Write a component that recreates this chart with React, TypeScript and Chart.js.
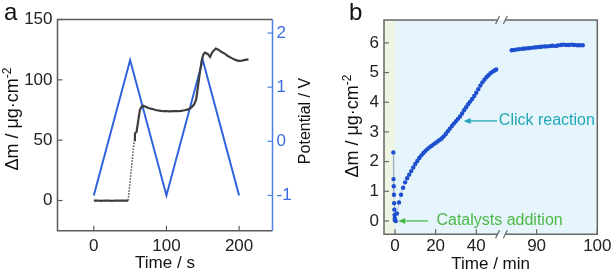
import React, { useEffect, useRef } from "react";
import { Chart, registerables } from "chart.js";

Chart.register(...registerables);

const FONT = "'Liberation Sans', Arial, Helvetica, sans-serif";

// ---------------- Panel a ----------------
const massTime = [0, 5, 10, 15, 20, 25, 30, 35, 40, 45, 47.3, 55.6, 56.6, 58.9, 61.1, 63.4, 65.5, 68, 72, 76, 80, 85, 90, 95, 100, 105, 110, 115, 120, 125, 130, 134, 138, 141, 143.5, 146, 148.5, 150.8, 153, 156.8, 160, 163.2, 167.8, 171.5, 176, 180.7, 185, 189.9, 195, 199, 204, 208.3, 213];
const massValues = [0, 0, -0.3, 0, 0, -0.3, 0, 0, 0, 0, 0, 50, 55.5, 57, 66, 75, 77.5, 78.5, 77.5, 76.5, 76, 75, 74.5, 74, 74, 73.8, 74, 74, 74.3, 74.8, 75.5, 77, 79.5, 84, 95, 106, 116, 121, 122.5, 121.5, 119, 123, 126, 125, 123, 121.5, 119.5, 118, 116.5, 115.8, 116, 116.5, 117];
const massDottedRange = [47.3, 55.6];
const potentialTime = [0, 50, 100, 150, 200];
const potentialValues = [-1, 1.5, -1, 1.5, -1];
const aTimeTicks = [0, 100, 200];
const aMassTicks = [0, 50, 100, 150];
const aPotentialTicks = [-1, 0, 1, 2];

// ---------------- Panel b ----------------
const bTimeEarly = [-0.8, -0.7, -0.6, -0.5, -0.4, -0.3, -0.2, -0.1, 0, 0.4, 1, 2, 3, 4, 5, 6, 7, 8, 9, 10, 11, 12, 13, 14, 15, 16, 17, 18, 19, 20, 21, 22, 23, 24, 25, 26, 27, 28, 29, 30, 31, 32, 33, 34, 35, 36, 37, 38, 39, 40, 41, 42, 43, 44, 45, 46, 47, 48, 49, 49.8];
const bMassEarly = [2.31, 1.41, 1.17, 0.88, 0.6, 0.38, 0.2, 0.08, 0.02, 0.0, 0.25, 0.62, 0.88, 1.12, 1.3, 1.44, 1.56, 1.68, 1.8, 1.92, 2.02, 2.12, 2.21, 2.29, 2.36, 2.42, 2.48, 2.53, 2.58, 2.63, 2.68, 2.73, 2.78, 2.85, 2.93, 3.02, 3.11, 3.2, 3.28, 3.36, 3.44, 3.52, 3.62, 3.73, 3.83, 3.93, 4.02, 4.11, 4.21, 4.32, 4.44, 4.56, 4.67, 4.76, 4.84, 4.91, 4.98, 5.03, 5.07, 5.1];
const bTimeLate = [85.9, 86.3, 86.8, 87.2, 87.7, 88.1, 88.6, 89.0, 89.5, 89.9, 90.4, 90.8, 91.3, 91.7, 92.2, 92.6, 93.1, 93.5, 94.0, 94.4, 94.9, 95.3, 95.8, 96.2, 96.7, 97.1, 97.6];
const bMassLate = [5.75, 5.76, 5.78, 5.79, 5.8, 5.81, 5.82, 5.83, 5.84, 5.85, 5.86, 5.87, 5.88, 5.88, 5.89, 5.9, 5.89, 5.91, 5.93, 5.94, 5.93, 5.93, 5.94, 5.93, 5.92, 5.92, 5.92];
const bTicksEarly = [0, 20, 40];
const bTicksLate = [90, 100];
const bMassTicks = [0, 1, 2, 3, 4, 5, 6];

// annotations (in data units of the early time axis / mass axis)
const noteLabels = ["Click reaction", "Catalysts addition"];
const noteColors = ["#22a6b8", "#4cb847"];
const noteY = [3.37, 0];
const noteTip = [33.8, 1.6];
const noteTail = [50.2, 16.3];
const noteTextX = [51.1, 20.4];

const toXY = (xs: number[], ys: number[]) => xs.map((x, i) => ({ x, y: ys[i] }));
const tickObjs = (arr: number[]) => arr.map((v) => ({ value: v }));

const GRAY = "#5a5a5a";
const AXBLUE = "#4f80e6";
const LABEL = "#222";

function drawYTitle(ctx: CanvasRenderingContext2D, xb: number, yc: number, main: string, sup: string, size: number, color: string) {
  ctx.save();
  ctx.fillStyle = color;
  const f1 = `${size}px ${FONT}`;
  const f2 = `${Math.round(size * 0.68)}px ${FONT}`;
  ctx.font = f1;
  const w1 = ctx.measureText(main).width;
  ctx.font = f2;
  const w2 = sup ? ctx.measureText(sup).width : 0;
  const total = w1 + w2;
  ctx.translate(xb, yc);
  ctx.rotate(-Math.PI / 2);
  ctx.textBaseline = "alphabetic";
  ctx.textAlign = "left";
  ctx.font = f1;
  ctx.fillText(main, -total / 2, 0);
  if (sup) {
    ctx.font = f2;
    ctx.fillText(sup, -total / 2 + w1, -size * 0.42);
  }
  ctx.restore();
}

function inwardTicks(ctx: CanvasRenderingContext2D, chart: any, id: string, side: string, color: string, len: number) {
  const s = chart.scales[id];
  const a = chart.chartArea;
  ctx.save();
  ctx.strokeStyle = color;
  ctx.lineWidth = 1.2;
  s.ticks.forEach((t: any) => {
    const p = s.getPixelForValue(t.value);
    ctx.beginPath();
    if (side === "bottom") { ctx.moveTo(p, a.bottom); ctx.lineTo(p, a.bottom - len); }
    if (side === "left") { ctx.moveTo(a.left, p); ctx.lineTo(a.left + len, p); }
    if (side === "right") { ctx.moveTo(a.right, p); ctx.lineTo(a.right - len, p); }
    ctx.stroke();
  });
  ctx.restore();
}

function arrow(ctx: CanvasRenderingContext2D, x0: number, x1: number, y: number, color: string) {
  ctx.save();
  ctx.strokeStyle = color;
  ctx.fillStyle = color;
  ctx.lineWidth = 1.3;
  ctx.beginPath();
  ctx.moveTo(x1, y);
  ctx.lineTo(x0 + 5, y);
  ctx.stroke();
  ctx.beginPath();
  ctx.moveTo(x0, y);
  ctx.lineTo(x0 + 7, y - 3);
  ctx.lineTo(x0 + 7, y + 3);
  ctx.closePath();
  ctx.fill();
  ctx.restore();
}

const tickFont = { family: FONT, size: 17 };

const decorA = {
  id: "decorA",
  afterDraw(chart: any) {
    const ctx = chart.ctx as CanvasRenderingContext2D;
    const a = chart.chartArea;
    ctx.save();
    ctx.lineWidth = 1.5;
    ctx.strokeStyle = GRAY;
    ctx.beginPath();
    ctx.moveTo(a.right, a.top);
    ctx.lineTo(a.left, a.top);
    ctx.lineTo(a.left, a.bottom);
    ctx.lineTo(a.right, a.bottom);
    ctx.stroke();
    ctx.strokeStyle = AXBLUE;
    ctx.beginPath();
    ctx.moveTo(a.right, a.top);
    ctx.lineTo(a.right, a.bottom);
    ctx.stroke();
    ctx.restore();
    inwardTicks(ctx, chart, "x", "bottom", GRAY, 5);
    inwardTicks(ctx, chart, "y", "left", GRAY, 5);
    inwardTicks(ctx, chart, "y2", "right", AXBLUE, 5);

    ctx.save();
    ctx.fillStyle = "#111";
    ctx.font = `17px ${FONT}`;
    ctx.textAlign = "center";
    ctx.textBaseline = "middle";
    ctx.fillText("Time / s", (a.left + a.right) / 2, 263);
    ctx.font = `24px ${FONT}`;
    ctx.textAlign = "left";
    ctx.textBaseline = "alphabetic";
    ctx.fillText("a", 4, 20);
    ctx.restore();
    drawYTitle(ctx, 18.3, 119, "Δm / μg·cm", "-2", 18, "#111");
    drawYTitle(ctx, 310, 121, "Potential / V", "", 16, "#111");
  },
};

const decorB = {
  id: "decorB",
  beforeDatasetsDraw(chart: any) {
    const ctx = chart.ctx as CanvasRenderingContext2D;
    const a = chart.chartArea;
    const x1 = chart.scales.x1;
    const zero = x1.getPixelForValue(0);
    ctx.save();
    ctx.fillStyle = "#e6f5fc";
    ctx.fillRect(a.left, a.top, a.right - a.left, a.bottom - a.top);
    ctx.fillStyle = "#eef6e3";
    ctx.fillRect(a.left, a.top, zero - a.left, a.bottom - a.top);
    ctx.restore();
  },
  afterDraw(chart: any) {
    const ctx = chart.ctx as CanvasRenderingContext2D;
    const a = chart.chartArea;
    const x1 = chart.scales.x1;
    const y = chart.scales.y;
    const brk = x1.right;
    const gl = brk - 3.9;
    const gr = brk + 3.9;
    ctx.save();
    ctx.lineWidth = 1.5;
    ctx.strokeStyle = "#666";
    ctx.beginPath();
    ctx.moveTo(gl, a.top);
    ctx.lineTo(a.left, a.top);
    ctx.lineTo(a.left, a.bottom);
    ctx.lineTo(gl, a.bottom);
    ctx.moveTo(gr, a.top);
    ctx.lineTo(a.right, a.top);
    ctx.lineTo(a.right, a.bottom);
    ctx.lineTo(gr, a.bottom);
    ctx.stroke();
    ctx.lineWidth = 1.2;
    [gl, gr].forEach((gx) => {
      [a.top, a.bottom].forEach((gy) => {
        ctx.beginPath();
        ctx.moveTo(gx - 2, gy + 4);
        ctx.lineTo(gx + 2, gy - 4);
        ctx.stroke();
      });
    });
    ctx.restore();
    inwardTicks(ctx, chart, "x1", "bottom", "#666", 5);
    inwardTicks(ctx, chart, "x2", "bottom", "#666", 5);
    inwardTicks(ctx, chart, "y", "left", "#666", 5);

    noteLabels.forEach((txt, i) => {
      const py = y.getPixelForValue(noteY[i]);
      arrow(ctx, x1.getPixelForValue(noteTip[i]), x1.getPixelForValue(noteTail[i]), py, noteColors[i]);
      ctx.save();
      ctx.fillStyle = noteColors[i];
      ctx.font = `16px ${FONT}`;
      ctx.textAlign = "left";
      ctx.textBaseline = "middle";
      ctx.fillText(txt, x1.getPixelForValue(noteTextX[i]), py);
      ctx.restore();
    });

    ctx.save();
    ctx.fillStyle = "#111";
    ctx.font = `17px ${FONT}`;
    ctx.textAlign = "center";
    ctx.textBaseline = "middle";
    ctx.fillText("Time / min", (a.left + a.right) / 2, 264);
    ctx.font = `24px ${FONT}`;
    ctx.textAlign = "left";
    ctx.textBaseline = "alphabetic";
    ctx.fillText("b", 37, 20);
    ctx.restore();
    drawYTitle(ctx, 46.3, 126, "Δm / μg·cm", "-2", 18, "#111");
  },
};

export default function App() {
  const refA = useRef<HTMLCanvasElement>(null);
  const refB = useRef<HTMLCanvasElement>(null);

  useEffect(() => {
    const dotted = (c: any) => c.p0.parsed.x >= massDottedRange[0] && c.p1.parsed.x <= massDottedRange[1];
    const chartA = new Chart(refA.current as HTMLCanvasElement, {
      type: "line",
      data: {
        datasets: [
          {
            data: toXY(massTime, massValues),
            xAxisID: "x",
            yAxisID: "y",
            borderColor: "#3d3d3d",
            borderWidth: 2.2,
            pointRadius: 0,
            tension: 0,
            segment: {
              borderDash: (c: any) => (dotted(c) ? [1.3, 1.7] : undefined),
              borderWidth: (c: any) => (dotted(c) ? 1.6 : undefined),
            },
          } as any,
          {
            data: toXY(potentialTime, potentialValues),
            xAxisID: "x",
            yAxisID: "y2",
            borderColor: "#2f62dc",
            borderWidth: 2,
            pointRadius: 0,
            tension: 0,
          },
        ],
      },
      options: {
        animation: false,
        responsive: false,
        maintainAspectRatio: false,
        layout: { padding: { top: 19.5, left: 0, right: 0, bottom: 0 } },
        plugins: { legend: { display: false }, tooltip: { enabled: false } },
        scales: {
          x: {
            type: "linear",
            position: "bottom",
            min: -50,
            max: 246,
            grid: { display: false, drawTicks: false },
            border: { display: false },
            ticks: { font: tickFont, color: LABEL, padding: 5.4, maxRotation: 0, autoSkip: false },
            afterBuildTicks: (s: any) => { s.ticks = tickObjs(aTimeTicks); },
            afterFit: (s: any) => { s.height = 42.3; },
          },
          y: {
            type: "linear",
            position: "left",
            min: -25,
            max: 150,
            grid: { display: false, drawTicks: false },
            border: { display: false },
            ticks: { font: tickFont, color: LABEL, padding: 5, autoSkip: false },
            afterBuildTicks: (s: any) => { s.ticks = tickObjs(aMassTicks); },
            afterFit: (s: any) => { s.width = 57.5; },
          },
          y2: {
            type: "linear",
            position: "right",
            min: -1.65,
            max: 2.25,
            grid: { display: false, drawTicks: false },
            border: { display: false },
            ticks: { font: tickFont, color: "#3a6ddf", padding: 4, autoSkip: false },
            afterBuildTicks: (s: any) => { s.ticks = tickObjs(aPotentialTicks); },
            afterFit: (s: any) => { s.width = 39.5; },
          },
        },
      } as any,
      plugins: [decorA],
    });

    const chartB = new Chart(refB.current as HTMLCanvasElement, {
      type: "line",
      data: {
        datasets: [
          {
            data: toXY(bTimeEarly, bMassEarly),
            xAxisID: "x1",
            yAxisID: "y",
            borderColor: "rgba(120,145,200,0.55)",
            borderWidth: 0.8,
            pointRadius: 2.2,
            pointBorderWidth: 0,
            pointBackgroundColor: "#1d4fcf",
            tension: 0,
          },
          {
            data: toXY(bTimeLate, bMassLate),
            xAxisID: "x2",
            yAxisID: "y",
            borderColor: "rgba(120,145,200,0.55)",
            borderWidth: 0.8,
            pointRadius: 2.2,
            pointBorderWidth: 0,
            pointBackgroundColor: "#1d4fcf",
            tension: 0,
          },
        ],
      },
      options: {
        animation: false,
        responsive: false,
        maintainAspectRatio: false,
        layout: { padding: { top: 20, left: 0, right: 14.7, bottom: 0 } },
        plugins: { legend: { display: false }, tooltip: { enabled: false } },
        scales: {
          x1: {
            type: "linear",
            position: "bottom",
            stack: "time",
            stackWeight: 118,
            min: -5.39,
            max: 52.39,
            grid: { display: false, drawTicks: false },
            border: { display: false },
            ticks: { font: tickFont, color: LABEL, padding: 1.5, maxRotation: 0, autoSkip: false },
            afterBuildTicks: (s: any) => { s.ticks = tickObjs(bTicksEarly); },
            afterFit: (s: any) => { s.height = 38.7; },
          },
          x2: {
            type: "linear",
            position: "bottom",
            stack: "time",
            stackWeight: 96.3,
            min: 84.21,
            max: 100,
            grid: { display: false, drawTicks: false },
            border: { display: false },
            ticks: { font: tickFont, color: LABEL, padding: 1.5, maxRotation: 0, autoSkip: false },
            afterBuildTicks: (s: any) => { s.ticks = tickObjs(bTicksLate); },
            afterFit: (s: any) => { s.height = 38.7; },
          },
          y: {
            type: "linear",
            position: "left",
            min: -0.45,
            max: 6.77,
            grid: { display: false, drawTicks: false },
            border: { display: false },
            ticks: { font: tickFont, color: LABEL, padding: 5, autoSkip: false },
            afterBuildTicks: (s: any) => { s.ticks = tickObjs(bMassTicks); },
            afterFit: (s: any) => { s.width = 72; },
          },
        },
      } as any,
      plugins: [decorB],
    });

    return () => {
      chartA.destroy();
      chartB.destroy();
    };
  }, []);

  return (
    <div style={{ position: "absolute", left: 0, top: 0, width: 613, height: 273, background: "#fff" }}>
      <canvas ref={refA} width={312} height={273} style={{ position: "absolute", left: 0, top: 0, width: 312, height: 273 }} />
      <canvas ref={refB} width={301} height={273} style={{ position: "absolute", left: 312, top: 0, width: 301, height: 273 }} />
    </div>
  );
}
